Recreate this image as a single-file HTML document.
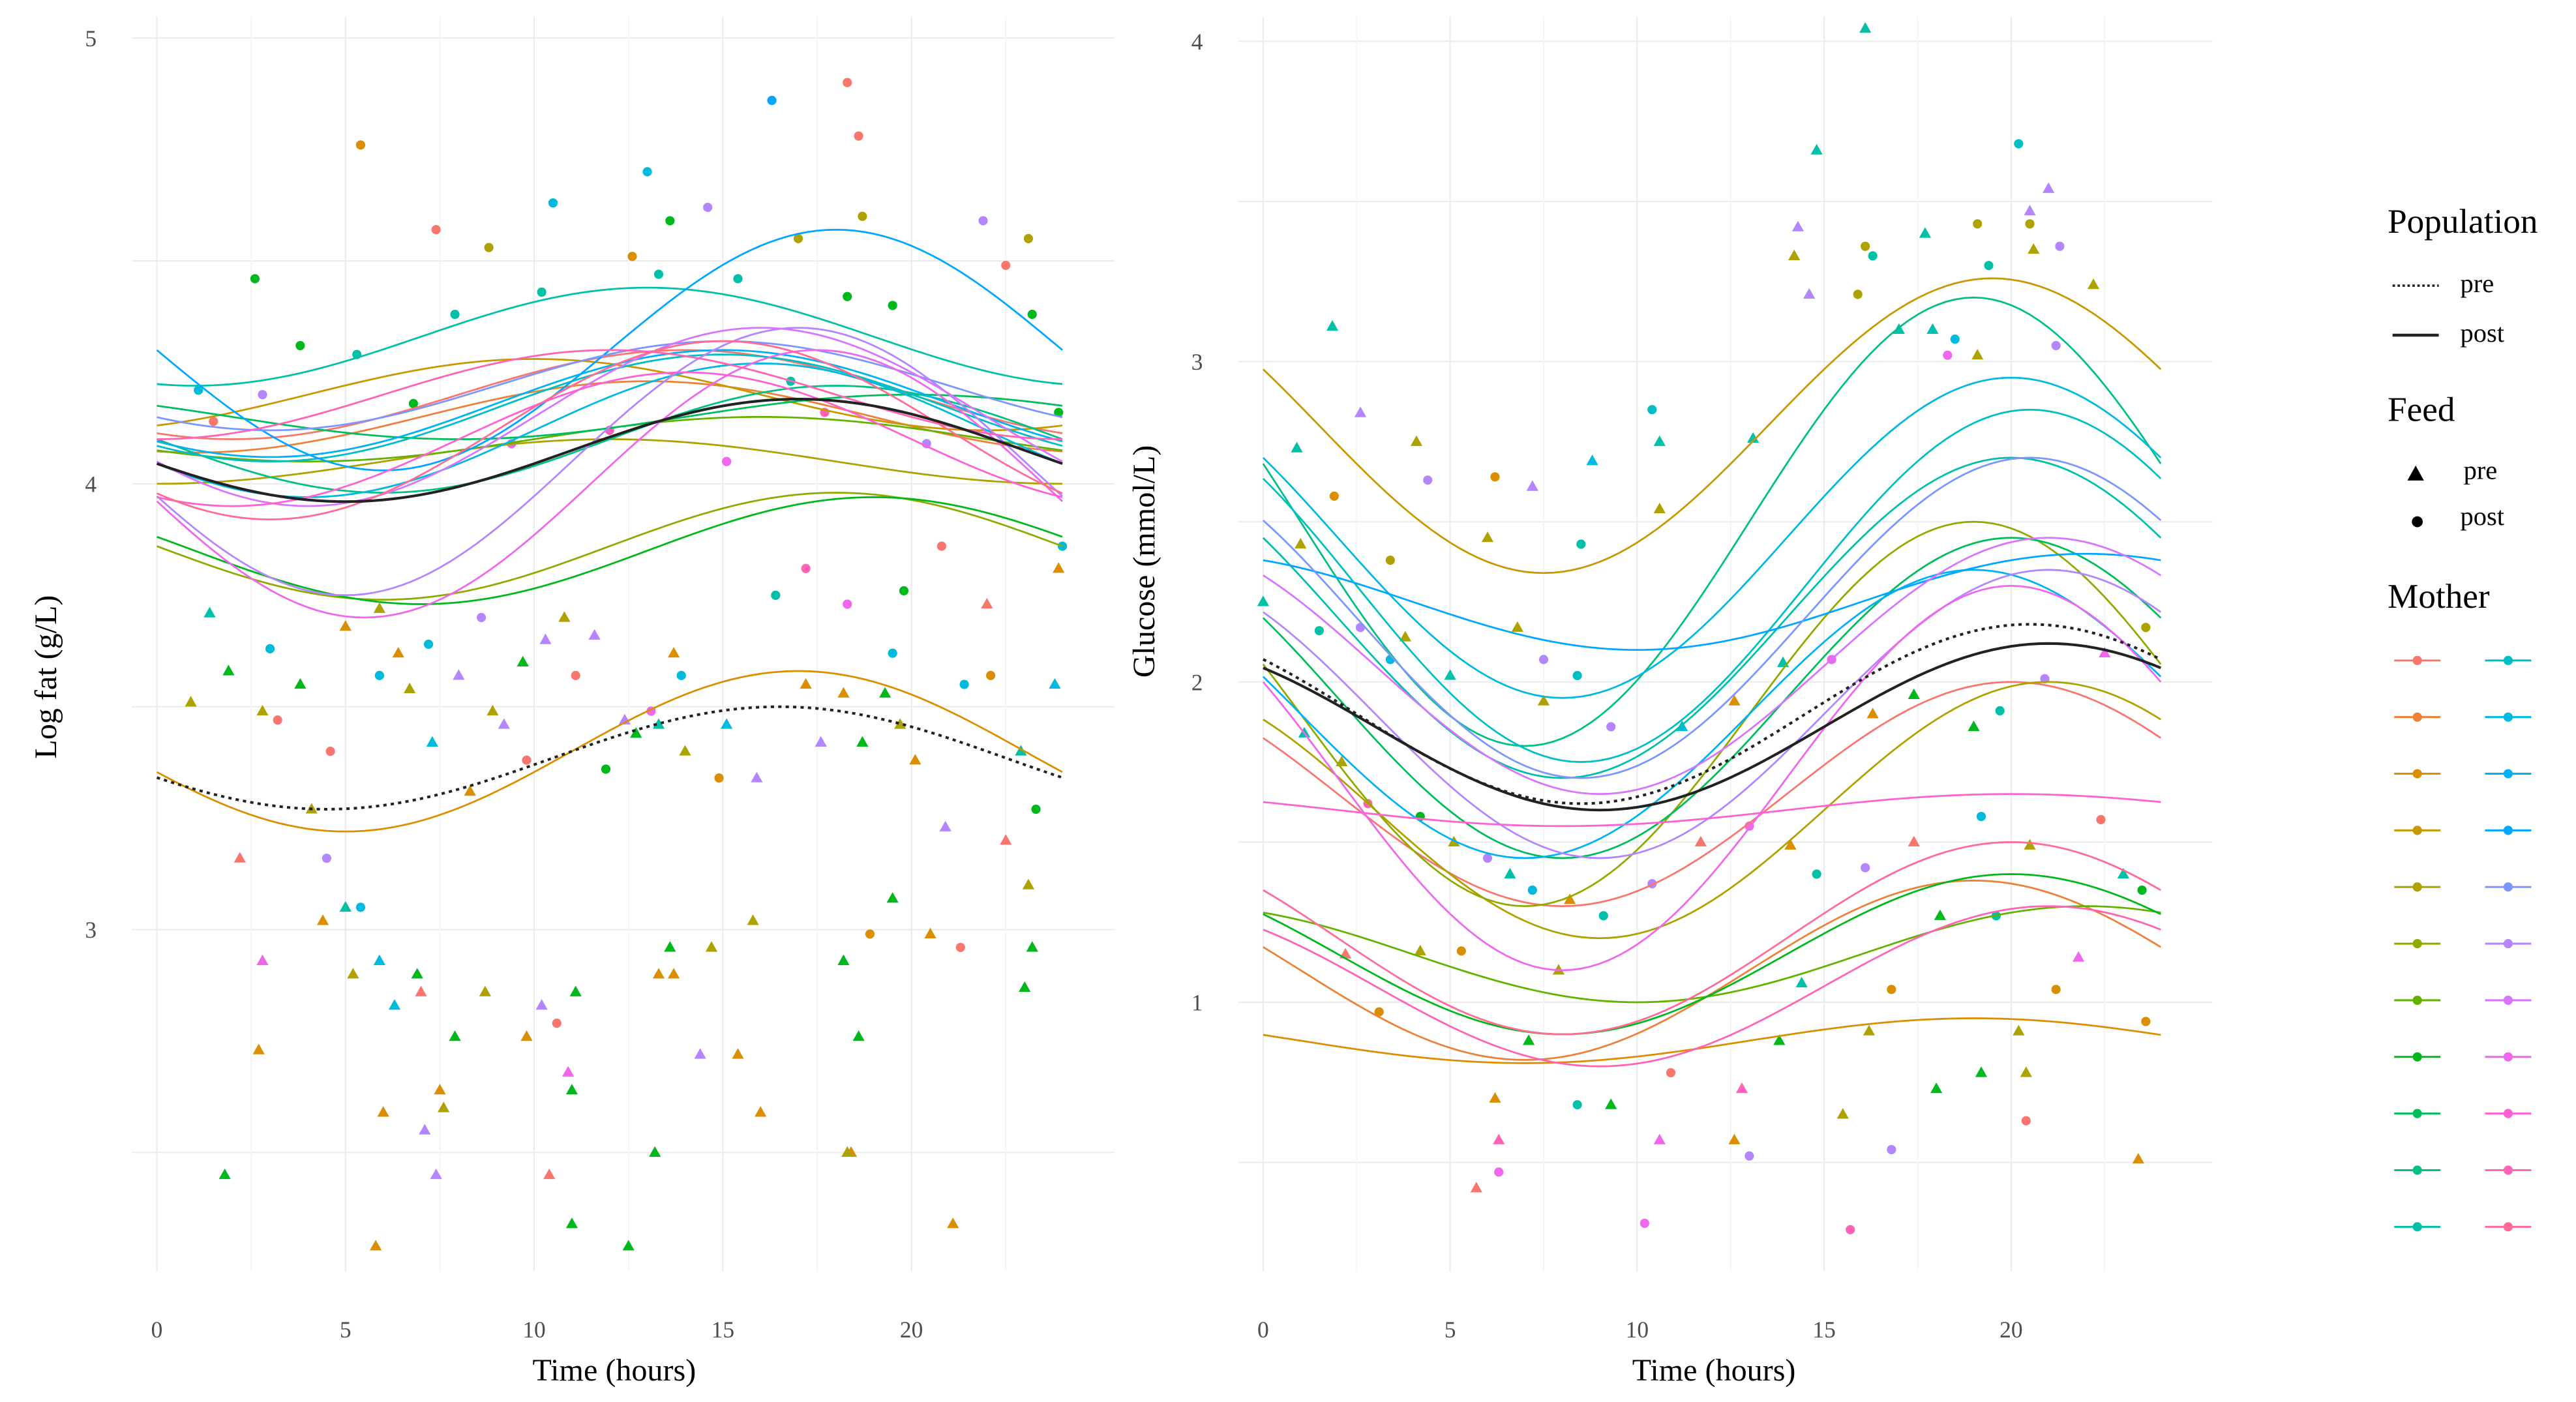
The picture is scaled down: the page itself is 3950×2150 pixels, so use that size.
<!DOCTYPE html>
<html><head><meta charset="utf-8">
<style>
html,body{margin:0;padding:0;background:#fff;}
svg{display:block;font-family:"Liberation Serif",serif;}
</style></head>
<body>
<svg id="chart" width="3950" height="2150" viewBox="0 0 1560.1 849.1" preserveAspectRatio="none" xmlns="http://www.w3.org/2000/svg">
<g id="left"></g>
<g id="right"></g>
<g id="legend"></g>
</svg>
<script>
// ---------- data ----------
const xTicks = [0,5,10,15,20];
const leftYTicks = [3,4,5];
const leftGrid = [2.5,3,3.5,4,4.5,5];
const rightYTicks = [1,2,3,4];
const rightGrid = [0.5,1,1.5,2,2.5,3,3.5,4];
// per-mother curve params [mean, amplitude, peak hour]
const leftMean = [4.2,4.15,3.40,4.2,4.05,3.86,4.1,3.85,4.15,4.1,4.33,4.17,4.12,4.18,4.3,4.22,4.05,4.15,4.0,4.1,4.2,4.12];
const leftAmp  = [0.1,0.08,0.18,0.08,0.05,0.12,0.05,0.12,0.05,0.12,0.11,0.12,0.15,0.12,0.27,0.1,0.3,0.2,0.3,0.15,0.1,0.2];
const leftPeak = [14,13,17,10,12,18,16,19,20,18,13,15,16,15,18,15,17,16,17.5,14,12,15];
const rightMean = [1.65,1.1,0.88,2.8,1.6,1.9,1.15,1.15,1.95,2.5,2.2,2.3,2.45,1.9,2.25,2.2,1.9,2.05,1.7,1.6,1.05,1.2];
const rightAmp  = [0.35,0.28,0.07,0.46,0.4,0.6,0.15,0.25,0.5,0.7,0.5,0.55,0.5,0.45,0.15,0.5,0.45,0.4,0.6,0.05,0.25,0.3];
const rightPeak = [20,19,19,19.5,21,19,22,20,20,19,20,20.5,20,19,22,20.5,21,21,20,20,21,20];
// population curves [mean, amp, peak]
const leftPop = {pre:[3.385,0.115,16.5], post:[4.075,0.115,17]};
const rightPop = {pre:[1.9,0.28,20.5], post:[1.86,0.26,21]};
// points: [hour, value, mother, feed(0=pre triangle,1=post dot)]
const leftPoints = [
[5.4,4.76,2,1],[18.3,4.90,0,1],[18.6,4.78,0,1],[16.3,4.86,14,1],[13.0,4.70,12,1],[10.5,4.63,12,1],[14.6,4.62,16,1],[7.4,4.57,0,1],[2.6,4.46,7,1],[13.6,4.59,7,1],[8.8,4.53,4,1],[12.6,4.51,2,1],[13.3,4.47,10,1],[18.7,4.60,4,1],[21.9,4.59,16,1],[22.5,4.49,0,1],[23.1,4.55,4,1],[23.2,4.38,7,1],[3.8,4.31,7,1],[5.3,4.29,10,1],[7.9,4.38,10,1],[10.2,4.43,10,1],[18.3,4.42,7,1],[19.5,4.40,7,1],[17,4.55,4,1],[15.4,4.46,10,1],[16.8,4.23,10,1],[1.1,4.21,12,1],[1.5,4.14,0,1],[2.8,4.20,16,1],[6.8,4.18,7,1],[9.4,4.09,18,1],[12,4.12,20,1],[15.1,4.05,18,1],[17.7,4.16,20,1],[20.4,4.09,16,1],[23.9,4.16,7,1],[24,3.86,12,1],
[1.8,2.45,7,0],[2.8,2.93,18,0],[2.7,2.73,2,0],[4.4,3.02,2,0],[5.0,3.05,10,0],[5.4,3.05,12,1],[5.2,2.90,4,0],[5.9,2.93,12,0],[5.8,2.29,2,0],[6.0,2.59,2,0],[6.3,2.83,12,0],[6.9,2.9,7,0],[7,2.86,0,0],[7.1,2.55,16,0],[7.4,2.45,16,0],[7.5,2.64,2,0],[7.6,2.6,4,0],[7.9,2.76,7,0],[8.7,2.86,4,0],[9.8,2.76,2,0],[10.2,2.83,16,0],[10.6,2.79,0,1],[10.9,2.68,18,0],[11,2.64,7,0],[11.1,2.86,7,0],[10.4,2.45,0,0],[11,2.34,7,0],[12.5,2.29,7,0],[13.2,2.5,7,0],[13.6,2.96,7,0],[13.3,2.9,2,0],[13.7,2.9,2,0],[14.4,2.72,16,0],[15.4,2.72,2,0],[16,2.59,2,0],[15.8,3.02,4,0],[14.7,2.96,4,0],[18.2,2.93,7,0],[18.4,2.5,2,0],[18.3,2.5,4,0],[18.6,2.76,7,0],[18.9,2.99,2,1],[19.5,3.07,7,0],[20.5,2.99,2,0],[21.3,2.96,0,1],[21.1,2.34,2,0],[22.5,3.2,0,0],[23,2.87,7,0],[23.2,2.96,7,0],[23.1,3.1,4,0],
[0.9,3.51,4,0],[1.4,3.71,10,0],[1.9,3.58,7,0],[2.8,3.49,4,0],[3.8,3.55,7,0],[4.1,3.27,4,0],[5,3.68,2,0],[5.9,3.72,4,0],[6.4,3.62,2,0],[6.7,3.54,4,0],[7.3,3.42,12,0],[8,3.57,16,0],[8.3,3.31,2,0],[8.9,3.49,4,0],[9.2,3.46,16,0],[9.7,3.6,7,0],[10.3,3.65,16,0],[10.8,3.7,4,0],[11.6,3.66,16,0],[12.4,3.47,16,0],[12.7,3.44,7,0],[13.3,3.46,10,0],[13.7,3.62,2,0],[14,3.4,4,0],[15.1,3.46,12,0],[15.9,3.34,16,0],[17.2,3.55,2,0],[17.6,3.42,16,0],[18.2,3.53,2,0],[18.7,3.42,7,0],[19.3,3.53,7,0],[19.7,3.46,4,0],[20.1,3.38,2,0],[20.9,3.23,16,0],[22,3.73,0,0],[22.9,3.4,10,0],[23.9,3.81,2,0],[23.8,3.55,12,0],
[3.2,3.47,0,1],[4.6,3.4,0,1],[4.5,3.16,16,1],[2.2,3.16,0,0],[3,3.63,12,1],[5.9,3.57,12,1],[7.2,3.64,12,1],[8.6,3.7,16,1],[9.8,3.38,0,1],[11.1,3.57,0,1],[11.9,3.36,7,1],[13.1,3.49,18,1],[13.9,3.57,12,1],[14.9,3.34,2,1],[16.4,3.75,10,1],[17.2,3.81,20,1],[18.3,3.73,18,1],[19.8,3.76,7,1],[19.5,3.62,12,1],[20.8,3.86,0,1],[21.4,3.55,12,1],[22.1,3.57,2,1],[23.3,3.27,7,1]
];
const rightPoints = [
[16.1,4.04,10,0],[14.8,3.66,10,0],[20.2,3.68,11,1],[21,3.54,16,0],[20.5,3.47,16,0],[19.1,3.43,4,1],[20.5,3.43,4,1],[14.3,3.42,16,0],[14.2,3.33,4,0],[16.1,3.36,4,1],[16.3,3.33,10,1],[17.7,3.40,10,0],[19.4,3.3,10,1],[21.3,3.36,16,1],[20.6,3.35,4,0],[22.2,3.24,4,0],[15.9,3.21,4,1],[14.6,3.21,16,0],[1.85,3.11,10,0],[17,3.1,10,0],[17.9,3.1,10,0],[18.5,3.07,12,1],[19.1,3.02,4,0],[18.3,3.02,18,1],[21.2,3.05,16,1],
[10.4,2.85,11,1],[13.1,2.76,10,0],[10.6,2.75,10,0],[2.6,2.84,16,0],[4.1,2.75,4,0],[4.4,2.63,16,1],[6.2,2.64,2,1],[6.0,2.45,4,0],[7.2,2.61,16,0],[8.8,2.69,12,0],[10.6,2.54,4,0],[8.5,2.43,10,1],[0.9,2.73,10,0],[1,2.43,4,0],[1.9,2.58,2,1],[3.4,2.38,4,1],
[0,2.25,10,0],[1.5,2.16,10,1],[2.6,2.17,16,1],[3.8,2.14,4,0],[3.4,2.07,12,1],[5,2.02,10,0],[6.8,2.17,4,0],[7.5,2.07,16,1],[7.5,1.94,4,0],[8.4,2.02,11,1],[9.3,1.86,16,1],[11.2,1.86,12,0],[12.6,1.94,2,0],[13.9,2.06,10,0],[15.2,2.07,18,1],[16.3,1.9,2,0],[17.4,1.96,7,0],[19,1.86,7,0],[19.7,1.91,10,1],[20.9,2.01,16,1],[22.5,2.09,18,0],[23.6,2.17,4,1],
[1.1,1.84,10,0],[2.1,1.75,4,0],[2.8,1.62,20,1],[4.2,1.58,7,1],[5.1,1.5,4,0],[6,1.45,16,1],[6.6,1.4,10,0],[7.2,1.35,12,1],[8.2,1.32,2,0],[9.1,1.27,10,1],[10.4,1.37,16,1],[11.7,1.5,0,0],[13,1.55,18,1],[14.1,1.49,2,0],[14.8,1.4,10,1],[16.1,1.42,16,1],[17.4,1.5,0,0],[19.2,1.58,12,1],[20.5,1.49,4,0],[22.4,1.57,0,1],[23,1.4,10,0],[23.5,1.35,7,1],
[2.2,1.15,0,0],[3.1,0.97,2,1],[4.2,1.16,4,0],[5.3,1.16,2,1],[6.2,0.7,2,0],[6.3,0.57,20,0],[5.7,0.42,0,0],[6.3,0.47,18,1],[7.1,0.88,7,0],[7.9,1.1,4,0],[8.4,0.68,10,1],[9.3,0.68,7,0],[10.2,0.31,18,1],[10.6,0.57,18,0],[10.9,0.78,0,1],[12.6,0.57,2,0],[12.8,0.73,20,0],[13,0.52,16,1],[13.8,0.88,7,0],[14.4,1.06,10,0],[15.5,0.65,4,0],[15.7,0.29,20,1],[16.2,0.91,4,0],[16.8,0.54,16,1],[18,0.73,7,0],[19.2,0.78,7,0],[20.2,0.91,4,0],[20.4,0.63,0,1],[20.4,0.78,4,0],[21.8,1.14,18,0],[21.2,1.04,2,1],[23.4,0.51,2,0],[23.6,0.94,2,1],[16.8,1.04,2,1],[18.1,1.27,7,0],[19.6,1.27,10,1]
];

// ---------- helpers ----------
const NS="http://www.w3.org/2000/svg";
function hcl(h){const L=65,C=100;const hr=h*Math.PI/180;const u=C*Math.cos(hr),v=C*Math.sin(hr);
const Xn=95.047,Yn=100,Zn=108.883;const d=Xn+15*Yn+3*Zn;const un=4*Xn/d,vn=9*Yn/d;
const Y=Yn*Math.pow((L+16)/116,3);const up=u/(13*L)+un,vp=v/(13*L)+vn;
const X=Y*9*up/(4*vp),Z=Y*(12-3*up-20*vp)/(4*vp);
const x=X/100,y=Y/100,z=Z/100;
let r=3.2406*x-1.5372*y-0.4986*z,g=-0.9689*x+1.8758*y+0.0415*z,b=0.0557*x-0.2040*y+1.0570*z;
const gm=c=>{c=c<=0.0031308?12.92*c:1.055*Math.pow(c,1/2.4)-0.055;return Math.round(Math.max(0,Math.min(1,c))*255);};
return `rgb(${gm(r)},${gm(g)},${gm(b)})`;}
const colors=[];for(let i=0;i<22;i++)colors.push(hcl(15+i*360/22));
function el(tag,attrs,parent){const e=document.createElementNS(NS,tag);for(const k in attrs)e.setAttribute(k,attrs[k]);parent.appendChild(e);return e;}
function cosCurve(m,a,p,t){return m+a*Math.cos(2*Math.PI*(t-p)/24);}

function panel(g,cfg){
  const {x,y,x0,x1,gridY,ticksY,means,amps,peaks,pop,points,ylab,yLabX,yLabY,xLabX,tickLX}=cfg;
  for(const v of gridY){const l=el('line',{x1:x0,x2:x1,y1:y(v),y2:y(v),stroke:'#ebebeb','stroke-width':0.8},g);
    }
  for(let t=0;t<=22.5;t+=2.5){const l=el('line',{x1:x(t),x2:x(t),y1:10,y2:770,stroke:t%5===0?'#ebebeb':'#f5f5f5','stroke-width':0.8},g);
    }
  for(const v of ticksY){const t=el('text',{x:tickLX,y:y(v)+5,'font-size':14,fill:'#4d4d4d','text-anchor':'middle'},g);t.textContent=v;
    }
  for(const v of xTicks){const t=el('text',{x:x(v),y:810,'font-size':14,fill:'#4d4d4d','text-anchor':'middle'},g);t.textContent=v;
    }
  const xl=el('text',{x:xLabX,y:836,'font-size':19,fill:'#000','text-anchor':'middle'},g);xl.textContent='Time (hours)';
  
  const yl=el('text',{x:yLabX,y:yLabY,'font-size':19,fill:'#000','text-anchor':'middle',transform:`rotate(-90 ${yLabX} ${yLabY})`},g);yl.textContent=ylab;
  
  for(const p of points){const cx=x(p[0]),cy=y(p[1]),c=colors[p[2]];let m;
    if(p[3]===1){m=el('circle',{cx:cx,cy:cy,r:2.8,fill:c},g);}
    else{m=el('polygon',{points:`${cx},${cy-3.8} ${cx-3.6},${cy+2.6} ${cx+3.6},${cy+2.6}`,fill:c},g);}
    }
  for(let i=0;i<means.length;i++){let d='';for(let t=0;t<=24.001;t+=0.25){d+=(t===0?'M':'L')+x(t).toFixed(2)+','+y(cosCurve(means[i],amps[i],peaks[i],t)).toFixed(2);}
    const c=el('path',{d:d,fill:'none',stroke:colors[i],'stroke-width':1.1},g);
    }
  for(const k of ['pre','post']){const q=pop[k];let d='';for(let t=0;t<=24.001;t+=0.25){d+=(t===0?'M':'L')+x(t).toFixed(2)+','+y(cosCurve(q[0],q[1],q[2],t)).toFixed(2);}
    const attrs={d:d,fill:'none',stroke:'#222','stroke-width':1.6};if(k==='pre')attrs['stroke-dasharray']='2 2.5';
    const c=el('path',attrs,g);
    }
}
panel(document.getElementById('left'),{x:t=>95+22.85*t,y:v=>293-270*(v-4),x0:80,x1:675,gridY:leftGrid,ticksY:leftYTicks,
  means:leftMean,amps:leftAmp,peaks:leftPeak,pop:leftPop,points:leftPoints,ylab:'Log fat (g/L)',yLabX:34,yLabY:410,xLabX:372,tickLX:55});
panel(document.getElementById('right'),{x:t=>765+22.65*t,y:v=>413-194*(v-2),x0:750,x1:1340,gridY:rightGrid,ticksY:rightYTicks,
  means:rightMean,amps:rightAmp,peaks:rightPeak,pop:rightPop,points:rightPoints,ylab:'Glucose (mmol/L)',yLabX:699,yLabY:340,xLabX:1038,tickLX:725});

// legend
const lg=document.getElementById('legend');
function txt(s,x,y,size,name){const t=el('text',{x:x,y:y,'font-size':size,fill:'#000'},lg);t.textContent=s;return t;}
txt('Population',1446,141,21,'legend-title-population');
let l=el('line',{x1:1449,x2:1477,y1:173,y2:173,stroke:'#222','stroke-width':1.4,'stroke-dasharray':'1.5 1.5'},lg);
txt('pre',1490,177,16,'legend-label-pre');
l=el('line',{x1:1449,x2:1477,y1:203,y2:203,stroke:'#222','stroke-width':1.8},lg);
txt('post',1490,207,16,'legend-label-post');
txt('Feed',1446,255,21,'legend-title-feed');
l=el('polygon',{points:'1463,282 1458,291 1468,291',fill:'#000'},lg);
txt('pre',1492,290,16,'legend-label-feed-pre');
l=el('circle',{cx:1464,cy:316,r:3.3,fill:'#000'},lg);
txt('post',1490,318,16,'legend-label-feed-post');
txt('Mother',1446,368,21,'legend-title-mother');
for(let i=0;i<22;i++){const col=Math.floor(i/11),row=i%11;const cx=col?1519:1464,cy=400+row*34.3;
  const k=el('line',{x1:cx-14,x2:cx+14,y1:cy,y2:cy,stroke:colors[i],'stroke-width':1.2},lg);
  
  const d=el('circle',{cx:cx,cy:cy,r:2.8,fill:colors[i]},lg);
  }
</script>
</body></html>
